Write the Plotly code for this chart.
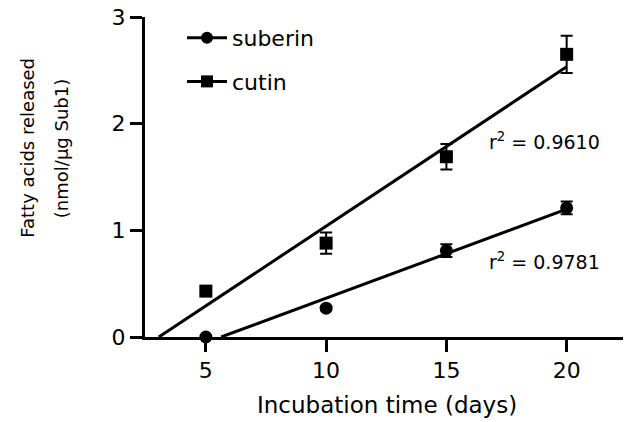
import numpy as np
import plotly.graph_objects as go

# ---- data ----
days = [5, 10, 15, 20]
suberin = [0.0, 0.27, 0.81, 1.21]
suberin_err = [0.0, 0.02, 0.06, 0.06]
cutin = [0.43, 0.88, 1.69, 2.65]
cutin_err = [0.03, 0.10, 0.12, 0.175]
series_names = ["suberin", "cutin"]
r2_labels = ["0.9781", "0.9610"]
x_ticks = [5, 10, 15, 20]
y_ticks = [0, 1, 2, 3]

FONT = "DejaVu Sans"
BLACK = "#000000"

fig = go.Figure()


def fit_line(x, y):
    m, b = np.polyfit(np.array(x, float), np.array(y, float), 1)
    x0 = -b / m
    x1 = max(x)
    return [x0, x1], [m * x0 + b, m * x1 + b]


series = [
    (series_names[0], suberin, suberin_err, "circle"),
    (series_names[1], cutin, cutin_err, "square"),
]

for name, vals, errs, sym in series:
    fx, fy = fit_line(days, vals)
    fig.add_trace(go.Scatter(
        x=fx, y=fy, mode="lines", showlegend=False,
        line=dict(color=BLACK, width=3), hoverinfo="skip",
    ))
    fig.add_trace(go.Scatter(
        x=days, y=vals, mode="markers", showlegend=False, cliponaxis=False,
        marker=dict(symbol=sym, size=13, color=BLACK),
        error_y=dict(type="data", array=errs, visible=True,
                     color=BLACK, thickness=2, width=6),
    ))

# legend-only entries (line + marker symbol)
for name, vals, errs, sym in series:
    fig.add_trace(go.Scatter(
        x=[None], y=[None], mode="lines+markers", name=name,
        legendgroup=name,
        marker=dict(symbol=sym, size=12, color=BLACK),
        line=dict(color=BLACK, width=3),
    ))

annotations = [
    dict(x=16.7, y=0.71, xref="x", yref="y", xanchor="left", yanchor="middle",
         text="r<sup>2</sup> = " + r2_labels[0], showarrow=False,
         font=dict(family=FONT, size=19, color=BLACK)),
    dict(x=16.7, y=1.84, xref="x", yref="y", xanchor="left", yanchor="middle",
         text="r<sup>2</sup> = " + r2_labels[1], showarrow=False,
         font=dict(family=FONT, size=19, color=BLACK)),
    # x-axis title
    dict(x=0.5, y=-0.213, xref="paper", yref="paper", xanchor="center",
         yanchor="middle", text="Incubation time (days)", showarrow=False,
         font=dict(family=FONT, size=23, color=BLACK)),
    # y-axis title (two lines)
    dict(x=0, y=0.59, xref="paper", yref="paper", xanchor="center",
         yanchor="middle", xshift=-117.5, textangle=-90,
         text="Fatty acids released", showarrow=False,
         font=dict(family=FONT, size=18, color=BLACK)),
    dict(x=0, y=0.587, xref="paper", yref="paper", xanchor="center",
         yanchor="middle", xshift=-84, textangle=-90,
         text="(nmol/µg Sub1)", showarrow=False,
         font=dict(family=FONT, size=18, color=BLACK)),
]

# the page body adds an 8px offset, so the figure is laid out 8px smaller
fig.update_layout(
    width=623, height=414,
    margin=dict(l=137, r=3, t=9, b=85),
    paper_bgcolor="white", plot_bgcolor="white",
    font=dict(family=FONT, color=BLACK),
    showlegend=True,
    legend=dict(x=0.0766, y=1.0, xanchor="left", yanchor="top",
                font=dict(family=FONT, size=22, color=BLACK),
                itemwidth=40, tracegroupgap=12, traceorder="grouped",
                bgcolor="rgba(0,0,0,0)"),
    annotations=annotations,
    xaxis=dict(range=[2.47, 22.55], tickvals=x_ticks, ticks="outside",
               ticklen=12, tickwidth=2.5, tickcolor=BLACK,
               showline=True, linewidth=3, linecolor=BLACK,
               showgrid=False, zeroline=False, ticklabeloverflow="allow",
               automargin=False,
               tickfont=dict(family=FONT, size=22, color=BLACK)),
    yaxis=dict(range=[0, 3], tickvals=y_ticks, ticks="outside",
               ticklen=12, tickwidth=2.5, tickcolor=BLACK,
               showline=True, linewidth=3, linecolor=BLACK,
               showgrid=False, zeroline=False, ticklabeloverflow="allow",
               automargin=False,
               tickfont=dict(family=FONT, size=22, color=BLACK)),
)

fig.write_html("out.html")
